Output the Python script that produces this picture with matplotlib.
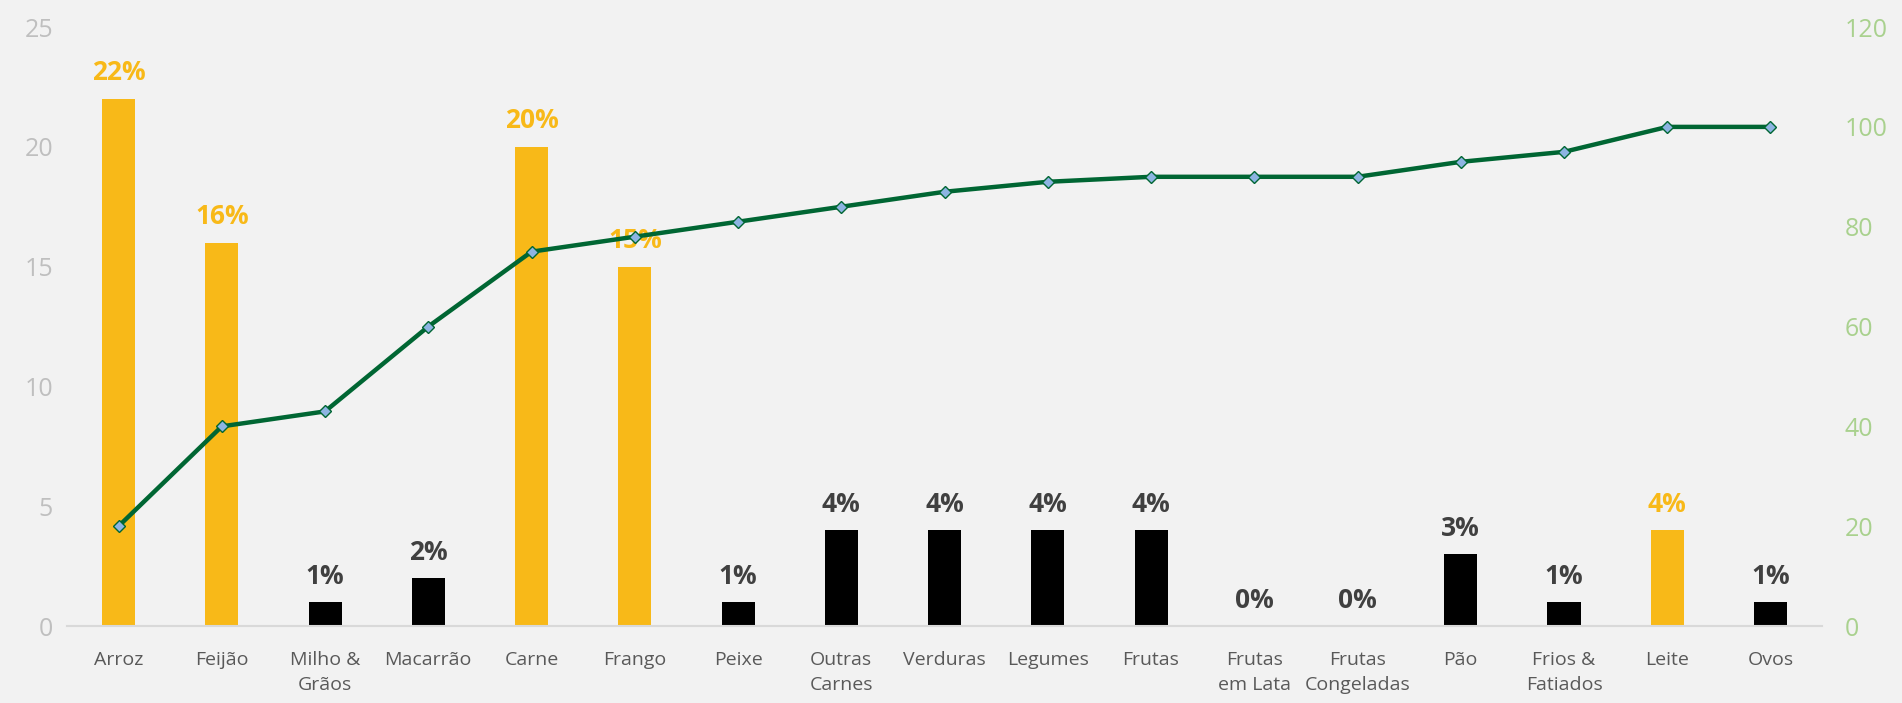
import matplotlib.pyplot as plt
import numpy as np

plt.rcParams['font.family'] = ['Open Sans', 'DejaVu Sans']

# Dados
categorias = ['Arroz', 'Feijão', 'Milho &\nGrãos', 'Macarrão', 'Carne', 'Frango',
              'Peixe', 'Outras\nCarnes', 'Verduras', 'Legumes', 'Frutas',
              'Frutas\nem Lata', 'Frutas\nCongeladas', 'Pão', 'Frios &\nFatiados',
              'Leite', 'Ovos']
valores = [22, 16, 1, 2, 20, 15, 1, 4, 4, 4, 4, 0, 0, 3, 1, 4, 1]
destaque = [1, 1, 0, 0, 1, 1, 0, 0, 0, 0, 0, 0, 0, 0, 0, 1, 0]
acumulado = [20, 40, 43, 60, 75, 78, 81, 84, 87, 89, 90, 90, 90, 93, 95, 100, 100]

amarelo = '#F8B918'
fundo = '#F2F2F2'

fig = plt.figure(figsize=(19.02, 7.03), dpi=100, facecolor=fundo)
ax1 = fig.add_axes([0.0352, 0.1095, 0.9228, 0.852])
ax1.set_facecolor(fundo)

x = np.arange(len(categorias))
cores = [amarelo if d else 'black' for d in destaque]
barras = ax1.bar(x, valores, width=0.32, color=cores, zorder=2)

# Rotulos das barras
for xi, v, d in zip(x, valores, destaque):
    corTxt = amarelo if d else '#404040'
    ax1.annotate(str(v) + '%', (xi, v), xytext=(0, 9), textcoords='offset points',
                 ha='center', va='bottom', fontsize=19, fontweight='bold',
                 color=corTxt, zorder=5)

ax1.set_xlim(-0.5, len(categorias) - 0.5)
ax1.set_ylim(0, 25)
ax1.set_yticks([0, 5, 10, 15, 20, 25])
ax1.set_xticks(x)
ax1.set_xticklabels(categorias, fontsize=14, color='#595959', linespacing=1.5)
ax1.tick_params(axis='y', length=0, labelsize=18, labelcolor='#BFBFBF', pad=10)
ax1.tick_params(axis='x', length=0, pad=18)
for s in ['top', 'right', 'left']:
    ax1.spines[s].set_visible(False)
ax1.spines['bottom'].set_color('#D9D9D9')
ax1.spines['bottom'].set_linewidth(1.5)

# Linha acumulada
ax2 = ax1.twinx()
ax2.plot(x, acumulado, color='#006633', linewidth=3.2, marker='D', markersize=6.5,
         markerfacecolor='#8DB4E2', markeredgecolor='#006633', markeredgewidth=1, zorder=4)
ax2.set_ylim(0, 120)
ax2.set_yticks([0, 20, 40, 60, 80, 100, 120])
ax2.tick_params(axis='y', length=0, labelsize=18, labelcolor='#A9D18E', pad=16)
for s in ['top', 'right', 'left', 'bottom']:
    ax2.spines[s].set_visible(False)

fig.savefig('out.png', dpi=100, facecolor=fundo)
